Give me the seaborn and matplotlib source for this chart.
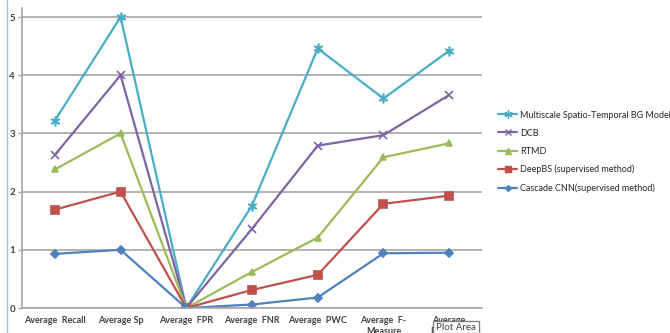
import matplotlib
matplotlib.use("Agg")
import matplotlib.pyplot as plt
import seaborn as sns
import pandas as pd
from matplotlib.lines import Line2D

categories = ["Average  Recall", "Average Sp", "Average  FPR", "Average  FNR",
              "Average  PWC", "Average  F-\nMeasure", "Average\nPrecision"]
series_names = ["Multiscale Spatio-Temporal BG Model", "DCB", "RTMD",
                "DeepBS (supervised method)", "Cascade CNN(supervised method)"]
multiscale = [3.22, 5.0, 0.0, 1.76, 4.46, 3.60, 4.42]
dcb = [2.63, 4.0, 0.0, 1.36, 2.79, 2.97, 3.66]
rtmd = [2.38, 3.0, 0.0, 0.62, 1.21, 2.59, 2.83]
deepbs = [1.69, 2.0, 0.0, 0.31, 0.57, 1.79, 1.93]
cascade = [0.93, 1.0, 0.0, 0.06, 0.18, 0.94, 0.95]
all_values = [multiscale, dcb, rtmd, deepbs, cascade]

colors = ["#4BACC6", "#8064A2", "#9BBB59", "#C0504D", "#4F81BD"]
markers = [(6, 2, 0), "x", "^", "s", "D"]
msizes = [7, 6, 5, 6, 4]

sns.set_theme(style="white")
plt.rcParams["font.family"] = ["Lato", "DejaVu Sans"]

fig = plt.figure(figsize=(6.7, 3.33), dpi=100)
ax = fig.add_axes([22 / 670, 25 / 333, 460 / 670, 300 / 333])

rows = []
for name, vals in zip(series_names, all_values):
    for i, v in enumerate(vals):
        rows.append({"series": name, "x": i, "y": v})
df = pd.DataFrame(rows)

handles = []
for name, col, mk, ms in zip(series_names, colors, markers, msizes):
    sub = df[df["series"] == name]
    sns.lineplot(data=sub, x="x", y="y", ax=ax, color=col, marker=mk,
                 markersize=ms, linewidth=1.6, markeredgecolor=col,
                 markeredgewidth=1.2, legend=False)
    handles.append(Line2D([0], [0], color=col, marker=mk, markersize=ms - 1,
                          linewidth=1.6, markeredgecolor=col, label=name))

ax.set_xlim(-0.5, 6.5)
ax.set_ylim(0, 5.155)
ax.set_yticks([0, 1, 2, 3, 4, 5])
ax.yaxis.grid(True, color="#A6A6A6", linewidth=1.2)
ax.set_axisbelow(True)
ax.set_xticks(range(len(categories)))
ax.set_xticklabels(categories, fontsize=6.5, fontweight="bold", color="#404040")
ax.set_xticks([i - 0.5 for i in range(len(categories) + 1)], minor=True)
ax.tick_params(axis="x", which="major", length=0, pad=6)
ax.tick_params(axis="x", which="minor", length=4, color="#A6A6A6", width=1)
ax.tick_params(axis="y", labelsize=7, labelcolor="#404040", length=3,
               color="#A6A6A6", width=1, pad=2, left=True)
for lab in ax.get_yticklabels():
    lab.set_fontweight("bold")
ax.set_xlabel("")
ax.set_ylabel("")
for s in ["top", "right"]:
    ax.spines[s].set_visible(False)
ax.spines["left"].set_color("#A6A6A6")
ax.spines["bottom"].set_color("#A6A6A6")
ax.spines["left"].set_linewidth(1.2)
ax.spines["bottom"].set_linewidth(1.2)

fig.legend(handles=handles, loc="upper left",
           bbox_to_anchor=(494 / 670, 1 - 107 / 333), frameon=False,
           fontsize=6.5, handlelength=2.2, handletextpad=0.3,
           labelspacing=1.0, borderaxespad=0)

fig.add_artist(Line2D([7 / 670, 7 / 670], [0, 1], color="#9DC3E6", linewidth=1))
fig.text(456 / 670, 1 - 328 / 333, "Plot Area", fontsize=7, ha="center",
         va="center", color="#404040",
         bbox=dict(facecolor="white", edgecolor="#808080", boxstyle="square,pad=0.3"))

fig.savefig("out.png", dpi=100)
